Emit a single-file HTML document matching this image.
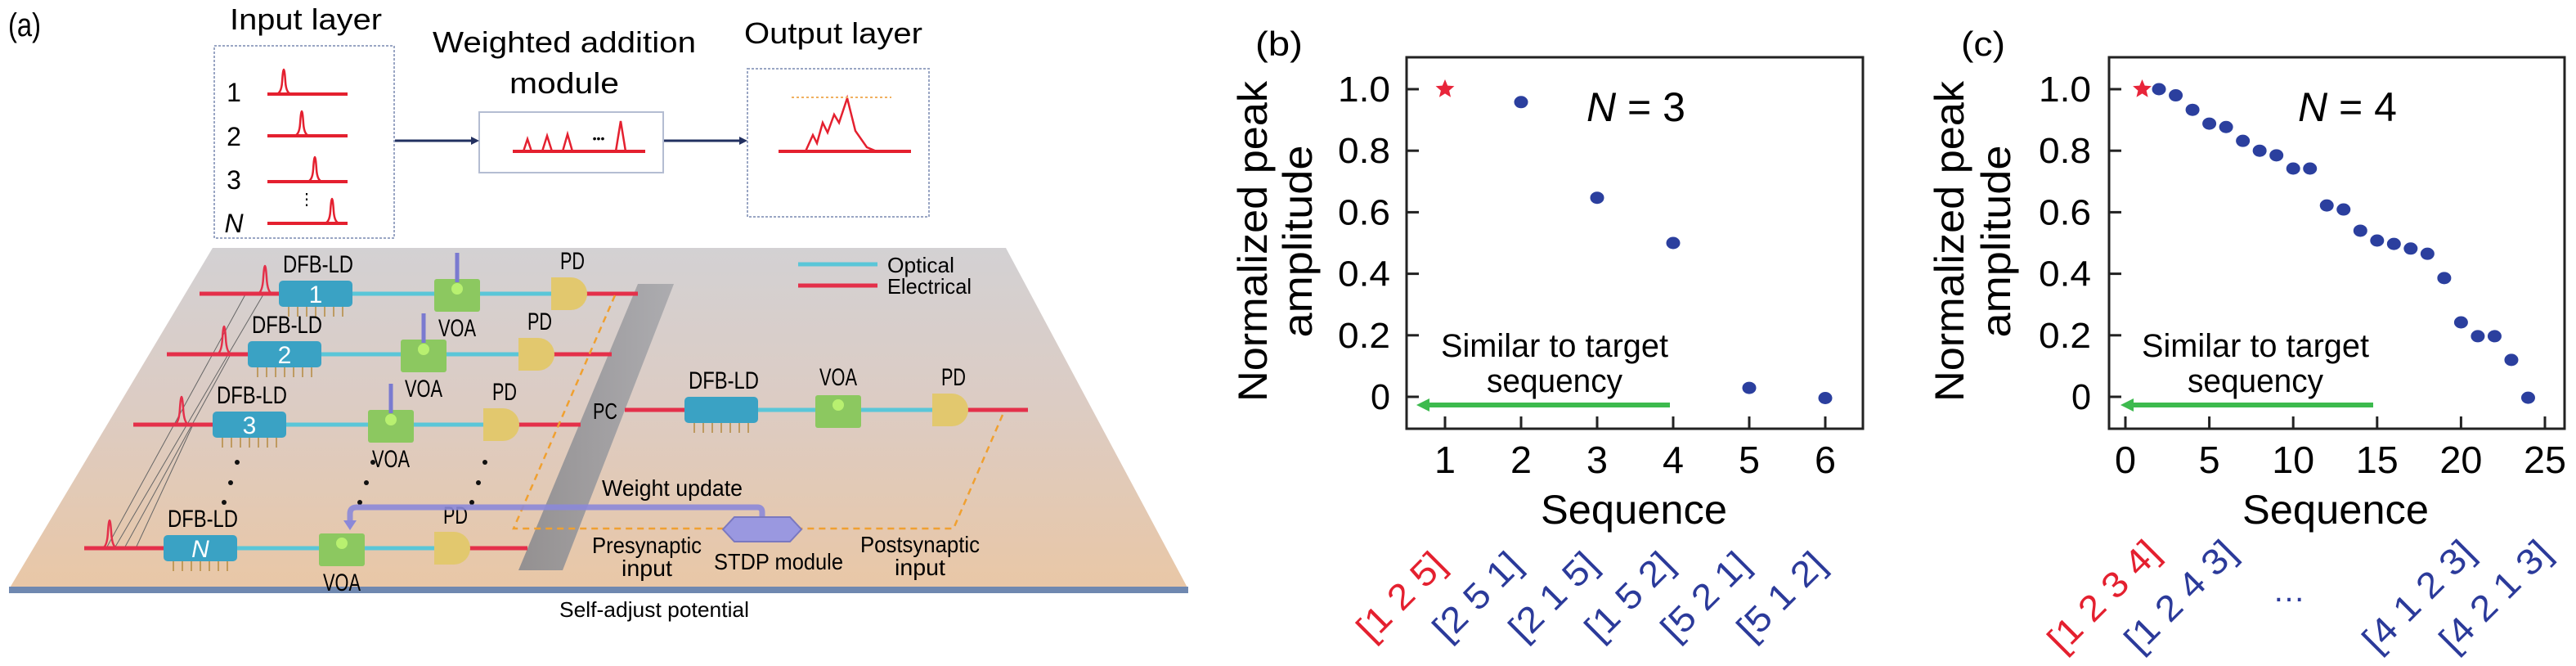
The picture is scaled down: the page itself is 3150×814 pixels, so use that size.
<!DOCTYPE html>
<html><head><meta charset="utf-8"><style>
html,body{margin:0;padding:0;background:#fff;}
svg{display:block;font-family:"Liberation Sans",sans-serif;}
</style></head><body>
<svg id="fig" width="3150" height="814" viewBox="0 0 3150 814" xmlns="http://www.w3.org/2000/svg">
<defs>
<linearGradient id="plat" x1="0" y1="0" x2="0" y2="1">
<stop offset="0" stop-color="#d3d1d3"/><stop offset="0.45" stop-color="#dcccc4"/><stop offset="1" stop-color="#e9c7a6"/>
</linearGradient>
<linearGradient id="pcg" x1="0" y1="0" x2="1" y2="0"><stop offset="0" stop-color="#8a8a8e"/><stop offset="1" stop-color="#a8a8ac"/></linearGradient>
</defs>

<!-- ===== Panel (a) ===== -->
<g>
<text x="10" y="44" font-size="40" textLength="40" lengthAdjust="spacingAndGlyphs">(a)</text>
<text x="374" y="36" font-size="36" text-anchor="middle" textLength="186" lengthAdjust="spacingAndGlyphs">Input layer</text>
<text x="690" y="64" font-size="36" text-anchor="middle" textLength="322" lengthAdjust="spacingAndGlyphs">Weighted addition</text>
<text x="690" y="114" font-size="36" text-anchor="middle" textLength="134" lengthAdjust="spacingAndGlyphs">module</text>
<text x="1019" y="53" font-size="36" text-anchor="middle" textLength="218" lengthAdjust="spacingAndGlyphs">Output layer</text>

<rect x="262" y="56" width="220" height="235" fill="#fff" stroke="#9aa6c4" stroke-width="2" stroke-dasharray="3,2"/>
<rect x="586" y="137" width="225" height="74" fill="#fff" stroke="#b4bdd2" stroke-width="2"/>
<rect x="914" y="84" width="222" height="181" fill="#fff" stroke="#9aa6c4" stroke-width="2" stroke-dasharray="3,2"/>
<g font-size="32">
<text x="286" y="124" text-anchor="middle">1</text>
<text x="286" y="178" text-anchor="middle">2</text>
<text x="286" y="231" text-anchor="middle">3</text>
<text x="286" y="284" text-anchor="middle" font-style="italic">N</text>
<text x="375" y="250" text-anchor="middle" font-size="20">⋮</text>
</g>
<g fill="none" stroke="#e4202f" stroke-width="4">
<path d="M327 115 H425"/><path d="M327 166 H425"/><path d="M327 222 H425"/><path d="M327 273 H425"/>
<path stroke-width="2.5" d="M337 115 Q344 115 345 100 Q347 70 349 100 Q350 115 357 115"/>
<path stroke-width="2.5" d="M359 166 Q366 166 367 151 Q369 121 371 151 Q372 166 379 166"/>
<path stroke-width="2.5" d="M375 222 Q382 222 383 207 Q385 177 387 207 Q388 222 395 222"/>
<path stroke-width="2.5" d="M396 273 Q403 273 404 258 Q406 228 408 258 Q409 273 416 273"/>
</g>
<g fill="none" stroke="#e4202f">
<path stroke-width="4" d="M627 185 H789"/>
<path stroke-width="2.5" d="M640 185 L645 170 L650 185 M663 185 L669 166 L675 185 M688 185 L694 164 L700 185 M753 185 L759 148 L765 185"/>
</g>
<text x="732" y="174" font-size="14" text-anchor="middle">•••</text>
<g fill="none" stroke="#e4202f">
<path stroke-width="4" d="M952 185 H1114"/>
<path stroke-width="2.5" d="M985 185 L994 165 L999 175 L1006 150 L1012 162 L1020 140 L1026 150 L1036 120 L1046 160 L1060 180 L1072 185"/>
<path stroke="#f0b060" stroke-width="2" stroke-dasharray="3,3" d="M968 119 H1090"/>
</g>
<g stroke="#223060" stroke-width="3" fill="#223060">
<path d="M483 172 H578"/><path stroke="none" d="M586 172 L576 167 L576 177Z"/>
<path d="M812 172 H906"/><path stroke="none" d="M914 172 L904 167 L904 177Z"/>
</g>

<!-- platform -->
<path d="M260 303 L1230 303 L1453 720 L11 720 Z" fill="url(#plat)"/>
<rect x="11" y="717" width="1442" height="8" fill="#6f88b0"/>
<text x="800" y="754" font-size="26" text-anchor="middle" textLength="232" lengthAdjust="spacingAndGlyphs">Self-adjust potential</text>

<!-- legend -->
<g>
<path d="M976 323 H1073" stroke="#5ac6d8" stroke-width="5"/>
<path d="M976 349 H1073" stroke="#e4304a" stroke-width="5"/>
<text x="1085" y="333" font-size="26" textLength="82" lengthAdjust="spacingAndGlyphs">Optical</text>
<text x="1085" y="359" font-size="26" textLength="103" lengthAdjust="spacingAndGlyphs">Electrical</text>
</g>

<!-- PC bar -->
<path d="M780 347 L824 347 L688 697 L634 697 Z" fill="url(#pcg)" opacity="0.9"/>
<text x="740" y="512" font-size="28" text-anchor="middle" textLength="30" lengthAdjust="spacingAndGlyphs">PC</text>

<!-- thin wires -->
<g stroke="#666" stroke-width="1" fill="none">
<path d="M322 360 L140 670"/><path d="M282 433 L152 670"/><path d="M236 519 L166 670"/><path d="M300 360 L130 670"/>
</g>

<g id="rows"></g>

<!-- dots -->
<g fill="#111">
<circle cx="290" cy="565" r="3"/><circle cx="282" cy="590" r="3"/><circle cx="274" cy="614" r="3"/>
<circle cx="456" cy="565" r="3"/><circle cx="448" cy="590" r="3"/><circle cx="440" cy="614" r="3"/>
<circle cx="593" cy="565" r="3"/><circle cx="585" cy="590" r="3"/><circle cx="577" cy="614" r="3"/>
</g>

<!-- dashed orange -->
<g stroke="#f0a030" stroke-width="2.5" stroke-dasharray="8,6" fill="none">
<path d="M752 361 L628 646 H900"/>
<path d="M1226 507 L1166 646 H965"/>
</g>
<!-- weight update -->
<path d="M932 646 V626 Q932 620 926 620 H436 Q428 620 428 628 V640" stroke="#8b88d8" stroke-width="7" fill="none" opacity="0.9"/>
<path d="M420 636 L436 636 L428 648 Z" fill="#8b88d8"/>
<text x="822" y="606" font-size="28" text-anchor="middle" textLength="172" lengthAdjust="spacingAndGlyphs">Weight update</text>
<path d="M884 647 L898 632 L966 632 L980 647 L966 662 L898 662 Z" fill="#9a98e0" stroke="#7a78c0" stroke-width="2"/>
<text x="952" y="696" font-size="28" text-anchor="middle" textLength="158" lengthAdjust="spacingAndGlyphs">STDP module</text>
<text x="791" y="676" font-size="28" text-anchor="middle" textLength="134" lengthAdjust="spacingAndGlyphs">Presynaptic</text>
<text x="791" y="704" font-size="28" text-anchor="middle" textLength="62" lengthAdjust="spacingAndGlyphs">input</text>
<text x="1125" y="675" font-size="28" text-anchor="middle" textLength="146" lengthAdjust="spacingAndGlyphs">Postsynaptic</text>
<text x="1125" y="703" font-size="28" text-anchor="middle" textLength="62" lengthAdjust="spacingAndGlyphs">input</text>
</g>

<!-- ===== Panel (b) ===== -->
<g id="chartB">
<text x="1564" y="68" font-size="42" text-anchor="middle" textLength="58" lengthAdjust="spacingAndGlyphs">(b)</text>
<text transform="translate(1549,295) rotate(-90)" font-size="50" text-anchor="middle" textLength="392" lengthAdjust="spacingAndGlyphs">Normalized peak</text>
<text transform="translate(1604,295) rotate(-90)" font-size="50" text-anchor="middle" textLength="235" lengthAdjust="spacingAndGlyphs">amplitude</text>
<text x="1998" y="640" font-size="50" text-anchor="middle" textLength="228" lengthAdjust="spacingAndGlyphs">Sequence</text>
<text x="1940" y="148" font-size="50"><tspan font-style="italic">N</tspan> = 3</text>
<text x="1901" y="436" font-size="40" text-anchor="middle" textLength="278" lengthAdjust="spacingAndGlyphs">Similar to target</text>
<text x="1901" y="479" font-size="40" text-anchor="middle" textLength="166" lengthAdjust="spacingAndGlyphs">sequency</text>
<path d="M2042 495 H1745" stroke="#3dba4e" stroke-width="6"/>
<path d="M1732 495 L1748 487 L1748 503 Z" fill="#3dba4e"/>
</g>

<!-- ===== Panel (c) ===== -->
<g id="chartC">
<text x="2425" y="68" font-size="42" text-anchor="middle" textLength="54" lengthAdjust="spacingAndGlyphs">(c)</text>
<text transform="translate(2401,295) rotate(-90)" font-size="50" text-anchor="middle" textLength="392" lengthAdjust="spacingAndGlyphs">Normalized peak</text>
<text transform="translate(2458,295) rotate(-90)" font-size="50" text-anchor="middle" textLength="235" lengthAdjust="spacingAndGlyphs">amplitude</text>
<text x="2856" y="640" font-size="50" text-anchor="middle" textLength="228" lengthAdjust="spacingAndGlyphs">Sequence</text>
<text x="2810" y="148" font-size="50"><tspan font-style="italic">N</tspan> = 4</text>
<text x="2758" y="436" font-size="40" text-anchor="middle" textLength="278" lengthAdjust="spacingAndGlyphs">Similar to target</text>
<text x="2758" y="479" font-size="40" text-anchor="middle" textLength="166" lengthAdjust="spacingAndGlyphs">sequency</text>
<path d="M2902 495 H2606" stroke="#3dba4e" stroke-width="6"/>
<path d="M2593 495 L2609 487 L2609 503 Z" fill="#3dba4e"/>
<text x="2799" y="735" font-size="40" fill="#2b3a9a" text-anchor="middle">…</text>
</g>
</svg>
<script>
// ---- chart data ----
const seqB = [1, 2, 3, 4, 5, 6];
const ampB = [1.0, 0.958, 0.647, 0.50, 0.029, -0.004];
const seqC = [1,2,3,4,5,6,7,8,9,10,11,12,13,14,15,16,17,18,19,20,21,22,23,24];
const ampC = [1.0,1.0,0.98,0.933,0.888,0.877,0.832,0.80,0.785,0.742,0.742,0.622,0.609,0.54,0.508,0.497,0.482,0.465,0.386,0.242,0.197,0.197,0.12,-0.003];
const yTicks = [0, 0.2, 0.4, 0.6, 0.8, 1.0];
const yTickLabels = ["0", "0.2", "0.4", "0.6", "0.8", "1.0"];
const xTicksB = [1, 2, 3, 4, 5, 6];
const xTicksC = [0, 5, 10, 15, 20, 25];
const targetIndex = 0;
const seqLabelsB = ["[1 2 5]", "[2 5 1]", "[2 1 5]", "[1 5 2]", "[5 2 1]", "[5 1 2]"];
const seqLabelsC = ["[1 2 3 4]", "[1 2 4 3]", "[4 1 2 3]", "[4 2 1 3]"];

const NS = "http://www.w3.org/2000/svg";
function mk(tag, attrs, parent) {
  const e = document.createElementNS(NS, tag);
  for (const k in attrs) e.setAttribute(k, attrs[k]);
  parent.appendChild(e);
  return e;
}
const yScale = v => 485 - v * 376;
const xScaleB = v => 1767 + (v - 1) * 93;
const xScaleC = v => 2599 + v * 20.52;

function starPath(cx, cy, R) {
  let d = "";
  for (let i = 0; i < 10; i++) {
    const r = i % 2 ? R * 0.45 : R;
    const a = -Math.PI / 2 + i * Math.PI / 5;
    d += (i ? "L" : "M") + (cx + r * Math.cos(a)).toFixed(1) + " " + (cy + r * Math.sin(a)).toFixed(1);
  }
  return d + "Z";
}

function drawChart(g, box, xs, seq, amp, xTicks, labelX) {
  const frame = mk("rect", {x: box[0], y: box[1], width: box[2] - box[0], height: box[3] - box[1], fill: "none", stroke: "#222", "stroke-width": 3}, g);
  
  
  yTicks.forEach((t, i) => {
    const y = yScale(t);
    const tk = mk("path", {d: `M${box[0]} ${y} H${box[0] + 15}`, stroke: "#222", "stroke-width": 3}, g);
    
    
    const lb = mk("text", {x: labelX, y: y + 15, "font-size": 44, "text-anchor": "end"}, g);
    
    
    lb.textContent = yTickLabels[i];
    const w = yTickLabels[i].length > 1 ? 64 : 24;
    lb.setAttribute("textLength", w);
    lb.setAttribute("lengthAdjust", "spacingAndGlyphs");
  });
  xTicks.forEach(t => {
    const x = xs(t);
    const tk = mk("path", {d: `M${x} ${box[3]} V${box[3] - 15}`, stroke: "#222", "stroke-width": 3}, g);
    
    
    const lb = mk("text", {x: x, y: 578, "font-size": 46, "text-anchor": "middle"}, g);
    
    
    lb.textContent = String(t);
    lb.setAttribute("textLength", String(t).length * 26);
    lb.setAttribute("lengthAdjust", "spacingAndGlyphs");
  });
  seq.forEach((s, i) => {
    const x = xs(s), y = yScale(amp[i]);
    if (i === targetIndex) {
      const st = mk("path", {d: starPath(x, y, 12), fill: "#e8253a"}, g);
      
      
    } else {
      const c = mk("ellipse", {cx: x, cy: y, rx: 8.5, ry: 7.5, fill: "#2b3f9e"}, g);
      
      
    }
  });
}
drawChart(document.getElementById("chartB"), [1720, 70, 2278, 524], xScaleB, seqB, ampB, xTicksB, 1700);
drawChart(document.getElementById("chartC"), [2579, 70, 3136, 524], xScaleC, seqC, ampC, xTicksC, 2557);

// rotated sequence labels
function seqLabel(g, text, x, y, red, len) {
  const t = mk("text", {transform: `translate(${x},${y}) rotate(-45)`, "font-size": 44, fill: red ? "#e4202f" : "#2b3a9a", textLength: len, lengthAdjust: "spacingAndGlyphs"}, g);
  
  
  t.textContent = text;
}
const gB = document.getElementById("chartB"), gC = document.getElementById("chartC");
seqLabelsB.forEach((s, i) => seqLabel(gB, s, xScaleB(seqB[i]) - 90, 786, i === targetIndex, 132));
const labelXC = [2522, 2616, 2907, 3001];
seqLabelsC.forEach((s, i) => seqLabel(gC, s, labelXC[i], 800, i === 0, 172));

// ---- diagram rows ----
const rowsG = document.getElementById("rows");
const rows = [
  {y: 359, rs: 244, dfb: 341, voa: 531, pd: 674, re: 780, n: "1", px: 324, voaBelow: true},
  {y: 433, rs: 204, dfb: 303, voa: 490, pd: 634, re: 748, n: "2", px: 274, voaBelow: true},
  {y: 519, rs: 163, dfb: 260, voa: 450, pd: 591, re: 710, n: "3", px: 222, voaBelow: true},
  {y: 670, rs: 103, dfb: 200, voa: 390, pd: 531, re: 645, n: "N", px: 134, voaBelow: true},
  {y: 501, rs: 764, dfb: 837, voa: 997, pd: 1140, re: 1257, n: "", px: 0, voaBelow: false}
];
rows.forEach(r => {
  const g = mk("g", {}, rowsG);
  
  
  mk("path", {d: `M${r.rs} ${r.y} H${r.dfb}`, stroke: "#e4304a", "stroke-width": 5}, g);
  mk("path", {d: `M${r.dfb + 90} ${r.y} H${r.pd}`, stroke: "#5ac6d8", "stroke-width": 5}, g);
  mk("path", {d: `M${r.pd + 40} ${r.y} H${r.re}`, stroke: "#e4304a", "stroke-width": 5}, g);
  if (r.px) mk("path", {d: `M${r.px - 10} ${r.y} Q${r.px - 3} ${r.y} ${r.px - 2} ${r.y - 20} Q${r.px} ${r.y - 48} ${r.px + 2} ${r.y - 20} Q${r.px + 3} ${r.y} ${r.px + 10} ${r.y}`, stroke: "#e4304a", "stroke-width": 2.5, fill: "none"}, g);
  for (let k = 0; k < 7; k++) mk("path", {d: `M${r.dfb + 12 + k * 11} ${r.y + 14} v14`, stroke: "#b48a40", "stroke-width": 1.5}, g);
  const dfb = mk("rect", {x: r.dfb, y: r.y - 16, width: 90, height: 32, rx: 5, fill: "#3aa2c4"}, g);
  
  
  if (r.n) {
    const nt = mk("text", {x: r.dfb + 45, y: r.y + 11, "font-size": 30, fill: "#fff", "text-anchor": "middle", "font-style": r.n === "N" ? "italic" : "normal"}, g);
    nt.textContent = r.n;
  }
  const dl = mk("text", {x: r.dfb + 48, y: r.y - 26, "font-size": 30, "text-anchor": "middle", textLength: 86, lengthAdjust: "spacingAndGlyphs"}, g);
  
  
  dl.textContent = "DFB-LD";
  const voa = mk("rect", {x: r.voa, y: r.y - 18, width: 56, height: 40, rx: 3, fill: "#8cc860"}, g);
  
  
  mk("circle", {cx: r.voa + 28, cy: r.y - 6, r: 7, fill: "#b8f070"}, g);
  if (r.n && r.n !== "N") {
    mk("path", {d: `M${r.voa + 28} ${r.y - 50} V${r.y - 14}`, stroke: "#7a7ad0", "stroke-width": 5}, g);
  }
  const vl = mk("text", {x: r.voa + 28, y: r.voaBelow ? r.y + 52 : r.y - 30, "font-size": 30, "text-anchor": "middle", textLength: 46, lengthAdjust: "spacingAndGlyphs"}, g);
  
  
  vl.textContent = "VOA";
  const pd = mk("path", {d: `M${r.pd} ${r.y - 20} h24 a20 20 0 0 1 0 40 h-24 z`, fill: "#e2c86e"}, g);
  
  
  const pl = mk("text", {x: r.pd + 26, y: r.y - 30, "font-size": 30, "text-anchor": "middle", textLength: 30, lengthAdjust: "spacingAndGlyphs"}, g);
  
  
  pl.textContent = "PD";
});
</script>
</body></html>
